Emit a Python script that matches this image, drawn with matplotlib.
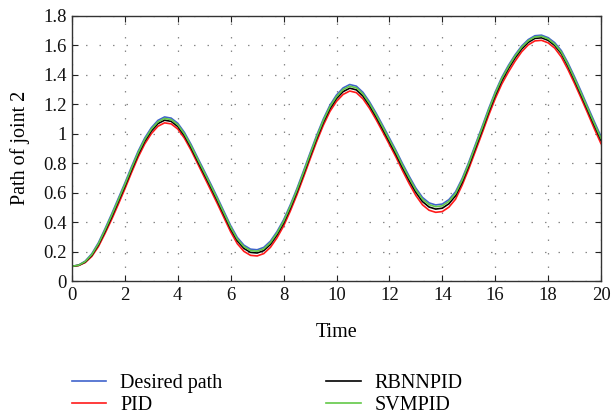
import numpy as np
import matplotlib
matplotlib.use("Agg")
import matplotlib.pyplot as plt

plt.rcParams['font.family'] = ['Liberation Serif', 'DejaVu Serif']

t = np.linspace(0, 20, 81)

desired = [0.100, 0.108, 0.135, 0.185, 0.260, 0.355, 0.455, 0.560, 0.665, 0.775,
           0.880, 0.970, 1.040, 1.090, 1.113, 1.105, 1.070, 1.008, 0.927, 0.836,
           0.747, 0.657, 0.565, 0.470, 0.375, 0.295, 0.243, 0.216, 0.212, 0.228,
           0.270, 0.335, 0.415, 0.515, 0.625, 0.745, 0.868, 0.988, 1.098, 1.192,
           1.262, 1.310, 1.333, 1.322, 1.280, 1.215, 1.138, 1.055, 0.970, 0.885,
           0.795, 0.710, 0.630, 0.567, 0.530, 0.516, 0.522, 0.552, 0.605, 0.695,
           0.805, 0.925, 1.045, 1.168, 1.282, 1.382, 1.463, 1.534, 1.594, 1.638,
           1.664, 1.668, 1.651, 1.617, 1.563, 1.480, 1.385, 1.285, 1.182, 1.080,
           0.980]

pid = [0.100, 0.105, 0.125, 0.167, 0.234, 0.323, 0.418, 0.520, 0.625, 0.735,
       0.840, 0.930, 1.000, 1.050, 1.073, 1.066, 1.031, 0.969, 0.888, 0.797,
       0.706, 0.615, 0.523, 0.428, 0.333, 0.253, 0.201, 0.174, 0.170, 0.186,
       0.228, 0.293, 0.373, 0.473, 0.583, 0.703, 0.826, 0.946, 1.056, 1.150,
       1.219, 1.266, 1.289, 1.278, 1.236, 1.171, 1.094, 1.011, 0.926, 0.840,
       0.747, 0.660, 0.580, 0.517, 0.480, 0.466, 0.471, 0.501, 0.555, 0.650,
       0.760, 0.880, 1.000, 1.123, 1.237, 1.337, 1.418, 1.491, 1.555, 1.602,
       1.629, 1.633, 1.616, 1.580, 1.520, 1.435, 1.340, 1.240, 1.137, 1.032,
       0.932]

rbnnpid = [0.100, 0.106, 0.129, 0.175, 0.246, 0.337, 0.435, 0.539, 0.643, 0.753,
           0.858, 0.948, 1.018, 1.068, 1.091, 1.083, 1.048, 0.986, 0.905, 0.814,
           0.725, 0.635, 0.543, 0.448, 0.353, 0.273, 0.221, 0.194, 0.190, 0.206,
           0.248, 0.313, 0.393, 0.493, 0.603, 0.723, 0.846, 0.966, 1.076, 1.169,
           1.238, 1.285, 1.308, 1.297, 1.255, 1.190, 1.113, 1.030, 0.945, 0.859,
           0.768, 0.682, 0.602, 0.539, 0.502, 0.488, 0.494, 0.524, 0.578, 0.670,
           0.781, 0.901, 1.021, 1.145, 1.259, 1.359, 1.441, 1.513, 1.574, 1.619,
           1.646, 1.650, 1.633, 1.598, 1.543, 1.458, 1.362, 1.261, 1.158, 1.055,
           0.955]

svmpid = [0.100, 0.107, 0.132, 0.180, 0.253, 0.347, 0.446, 0.550, 0.655, 0.765,
          0.870, 0.960, 1.030, 1.080, 1.103, 1.095, 1.060, 0.998, 0.917, 0.826,
          0.737, 0.647, 0.555, 0.460, 0.365, 0.285, 0.233, 0.206, 0.202, 0.218,
          0.260, 0.325, 0.405, 0.505, 0.615, 0.735, 0.858, 0.978, 1.088, 1.182,
          1.251, 1.299, 1.322, 1.311, 1.269, 1.204, 1.127, 1.044, 0.959, 0.874,
          0.783, 0.698, 0.618, 0.555, 0.518, 0.504, 0.510, 0.540, 0.593, 0.684,
          0.795, 0.915, 1.035, 1.158, 1.273, 1.373, 1.454, 1.526, 1.586, 1.630,
          1.656, 1.660, 1.643, 1.608, 1.553, 1.469, 1.373, 1.273, 1.170, 1.068,
          0.968]

series_names = ['Desired path', 'PID', 'RBNNPID', 'SVMPID']
xticks = [0, 2, 4, 6, 8, 10, 12, 14, 16, 18, 20]
yticks = [0, 0.2, 0.4, 0.6, 0.8, 1.0, 1.2, 1.4, 1.6, 1.8]
ytick_labels = ['0', '0.2', '0.4', '0.6', '0.8', '1', '1.2', '1.4', '1.6', '1.8']

colors = ['#3f63cc', '#ff1a1a', '#000000', '#62c848']

fig = plt.figure(figsize=(6.11, 4.17), dpi=100)
ax = fig.add_axes([72/611, 1-281/417, (601-72)/611, (281-15.7)/417])

for y, name, c in zip([desired, pid, rbnnpid, svmpid], series_names, colors):
    ax.plot(t, y, color=c, lw=1.2, label=name)

ax.set_xlim(0, 20)
ax.set_ylim(0, 1.8)
ax.set_xticks(xticks)
ax.set_yticks(yticks)
ax.set_yticklabels(ytick_labels)
ax.tick_params(direction='in', top=True, right=True, length=4, width=0.8,
               labelsize=13.5, colors='#222222', labelcolor='#111111', pad=4)
ax.grid(True, color='#888888', linestyle=(0, (1.2, 9.6)), linewidth=0.9)
for s in ax.spines.values():
    s.set_color('#333333')
    s.set_linewidth(1.0)

ax.set_xlabel('Time', fontsize=14.5, labelpad=14)
ax.set_ylabel('Path of joint 2', fontsize=14.5, labelpad=9)

handles, labels = ax.get_legend_handles_labels()
leg = fig.legend(handles, labels, ncol=2, frameon=False, fontsize=14.5,
                 loc='upper left', bbox_to_anchor=(72/611, 1-374/417),
                 borderaxespad=0, borderpad=0, handlelength=1.7,
                 handletextpad=0.7, columnspacing=5.15, labelspacing=0.15)

fig.savefig('out.png', dpi=100)
